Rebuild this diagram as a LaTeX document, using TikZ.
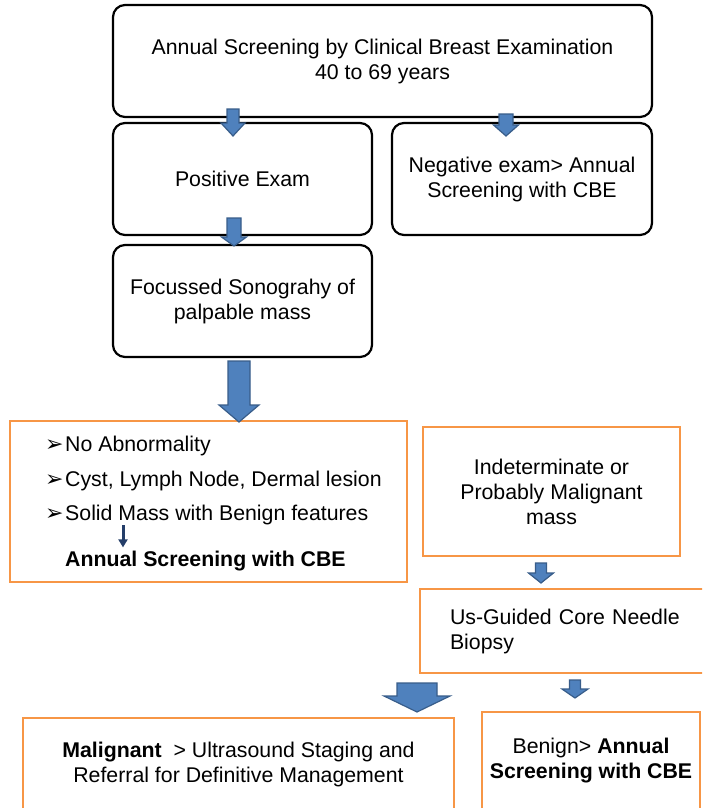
\documentclass[tikz,border=0pt]{standalone}
\usepackage{fontspec}
\setmainfont{Liberation Sans}
\newfontfamily\symfont{DejaVu Sans}
\usetikzlibrary{arrows.meta,positioning}
\definecolor{boxorange}{RGB}{247,150,70}
\definecolor{arrfill}{RGB}{79,129,189}
\definecolor{arredge}{RGB}{56,93,138}
\definecolor{navy}{RGB}{36,62,105}
\newcommand{\fs}{\fontsize{21.3}{25}\selectfont}
\newcommand{\bul}{\makebox[20pt][l]{\symfont\fontsize{22}{22}\selectfont ➢}}
% x, top, head base, tip, shaft half width, head half width
\newcommand{\downblock}[6]{\filldraw[barrow] ({#1-#5},#2) -- ({#1+#5},#2) -- ({#1+#5},#3) -- ({#1+#6},#3) -- (#1,#4) -- ({#1-#6},#3) -- ({#1-#5},#3) -- cycle;}

\begin{document}
\begin{tikzpicture}[x=1pt,y=-1pt,every node/.style={font=\fs,inner sep=0pt},
  rbox/.style={draw=black,line width=2.2pt,rounded corners=12pt,align=center},
  obox/.style={draw=boxorange,line width=2.5pt,align=center},
  barrow/.style={fill=arrfill,draw=arredge,line width=1.2pt},
  thinarr/.style={-{Triangle[length=8pt,width=9pt]},line width=3pt,draw=navy}]
\useasboundingbox (0,0) rectangle (702,808);
\fill[white] (0,0) rectangle (702,808);
\clip (0,0) rectangle (702,808);

% rounded boxes
\node[rbox,minimum width=539pt,minimum height=112pt] (screen) at (382.5,61) {Annual Screening by Clinical Breast Examination\\40 to 69 years};
\node[rbox,minimum width=259pt,minimum height=112pt] (pos) at (242.5,179) {Positive Exam};
\node[rbox,minimum width=260pt,minimum height=112pt] (neg) at (522,179) {Negative exam> Annual\\Screening with CBE};
\node[rbox,minimum width=259pt,minimum height=112pt] (sono) at (242.5,301) {Focussed Sonograhy of\\palpable mass};

% orange boxes
\node[obox,minimum width=397pt,minimum height=161pt] (list) at (208.5,501.5) {};
\node[anchor=base west] (noab) at (45,451) {\bul No Abnormality};
\node[anchor=base west] (cyst) at (45,486) {\bul Cyst, Lymph Node, Dermal lesion};
\node[anchor=base west] (solid) at (45,520) {\bul Solid Mass with Benign features};
\node[anchor=base west,font=\fs\bfseries] (cbe) at (65,566) {Annual Screening with CBE};
\coordinate (dn) at (123,525);
\draw[thinarr,shorten >=3pt] (dn) -- (dn |- cbe.north);

\node[obox,minimum width=257pt,minimum height=129pt] (indet) at (551.5,491.5) {Indeterminate or\\Probably Malignant\\mass};
\node[obox,align=left,text width=240pt,inner xsep=30pt,minimum height=84pt] (core) at (570,631) {Us-Guided Core Needle\\Biopsy};
\node[obox,minimum width=431pt,minimum height=92pt] (malig) at (238.5,764) {\textbf{Malignant}~~> Ultrasound Staging and\\Referral for Definitive Management};
\node[obox,minimum width=218pt,minimum height=98pt] (benign) at (591,761) {Benign> \textbf{Annual}\\\textbf{Screening with CBE}};

% block arrows
\downblock{233}{109}{123}{136}{6}{12}
\downblock{506}{114}{125}{136}{7}{12.5}
\downblock{234}{218}{237}{246}{7}{12.5}
\downblock{239}{361}{405}{422}{11}{20}
\downblock{541}{563}{573}{583}{5.5}{12.5}
\downblock{575}{680}{689}{698}{5.5}{13}
\downblock{417}{683}{696}{712}{20}{33}
\end{tikzpicture}
\end{document}
